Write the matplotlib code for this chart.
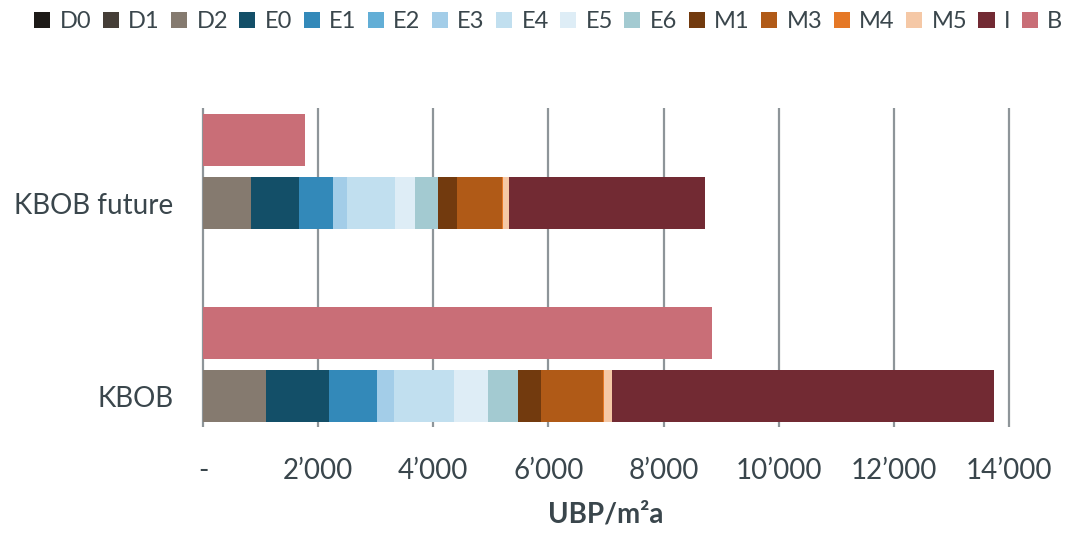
"""
Barras apiladas UBP/m2a: KBOB vs KBOB future, con barra B aparte.
"""

import matplotlib
matplotlib.use("Agg")
import matplotlib.pyplot as plt
from matplotlib.ticker import FuncFormatter

# ---------------------------------------------------------------------------
# Datos
# ---------------------------------------------------------------------------

categories = ["KBOB", "KBOB future"]
components = ["D0", "D1", "D2", "E0", "E1", "E2", "E3", "E4", "E5", "E6",
              "M1", "M3", "M4", "M5", "I"]

kbob_values = [0, 0, 1087, 1110, 826, 0, 289, 1046, 596, 520,
               393, 1084, 20, 139, 6629]
future_values = [0, 0, 842, 830, 591, 0, 233, 841, 353, 400,
                 316, 794, 10, 105, 3397]
b_values = [8840, 1775]

x_ticks = [0, 2000, 4000, 6000, 8000, 10000, 12000, 14000]

colors = {
    "D0": "#1d1a17", "D1": "#453e37", "D2": "#857a6f",
    "E0": "#134f68", "E1": "#3389b9", "E2": "#62aed6", "E3": "#a3cde8",
    "E4": "#c1dfef", "E5": "#deedf6", "E6": "#a3cad1",
    "M1": "#723a0e", "M3": "#b05a17", "M4": "#e57826", "M5": "#f5c8a6",
    "I": "#722a33", "B": "#c96e77",
}

TEXT = "#3a464c"
GRID = "#8e9599"


def fmt_x(v, _pos):
    if v == 0:
        return "-"
    return f"{int(v):,}".replace(",", "\u2019")


def main() -> None:
    plt.rcParams["font.family"] = ["Lato", "DejaVu Sans"]

    fig = plt.figure(figsize=(10.75, 5.33), dpi=100)
    # posicion en pixeles: x 0 -> 203, 14000 -> 1009
    px = 806 / 14000
    left = 203 - 100 * px
    right = 1009 + 100 * px
    ax = fig.add_axes([left / 1075, (533 - 427) / 533,
                       (right - left) / 1075, 319 / 533])

    pos = [0, 1]
    off = 0.165
    h = 0.27
    stack_y = [p - off for p in pos]
    b_y = [p + off for p in pos]

    data = {"KBOB": kbob_values, "KBOB future": future_values}
    lefts = [0.0, 0.0]
    for i, comp in enumerate(components):
        vals = [data[c][i] for c in categories]
        ax.barh(stack_y, vals, height=h, left=lefts, color=colors[comp],
                edgecolor="none", label=comp, zorder=3)
        lefts = [a + b for a, b in zip(lefts, vals)]

    ax.barh(b_y, b_values, height=h, color=colors["B"], edgecolor="none",
            label="B", zorder=3)

    ax.set_xlim(-100, 14100)
    ax.set_ylim(-0.324, 1.329)
    ax.set_xticks(x_ticks)
    ax.xaxis.set_major_formatter(FuncFormatter(fmt_x))
    ax.set_yticks(stack_y)
    ax.set_yticklabels(categories)

    for x in x_ticks:
        ax.axvline(x, color=GRID, lw=1.6, zorder=1)

    for s in ax.spines.values():
        s.set_visible(False)
    ax.tick_params(axis="both", length=0, labelsize=20, colors=TEXT)
    ax.tick_params(axis="x", pad=22)
    ax.tick_params(axis="y", pad=17)

    ax.set_xlabel("UBP/m²a", fontsize=20, fontweight="bold", color=TEXT,
                  labelpad=13)

    handles, labels = ax.get_legend_handles_labels()
    fig.legend(handles, labels, loc="upper center", ncol=16,
               bbox_to_anchor=(0.51, 0.997), frameon=False, fontsize=17,
               handlelength=0.68, handleheight=0.68, handletextpad=0.4,
               columnspacing=0.48, labelcolor=TEXT, borderaxespad=0)

    fig.savefig("out.png", dpi=100)


if __name__ == "__main__":
    main()
